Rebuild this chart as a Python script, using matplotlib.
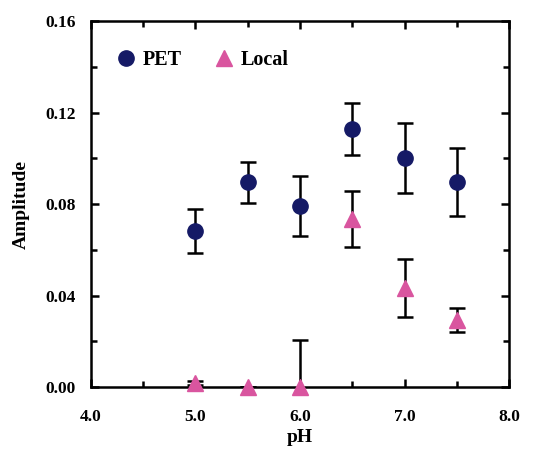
import matplotlib
matplotlib.use("Agg")
import matplotlib.pyplot as plt
from matplotlib.ticker import MultipleLocator, FormatStrFormatter

ph = [5.0, 5.5, 6.0, 6.5, 7.0, 7.5]
pet = [0.0682, 0.0896, 0.0791, 0.1128, 0.1001, 0.0896]
pet_err = [0.0096, 0.0090, 0.0131, 0.0112, 0.0153, 0.0149]
local = [0.0017, 0.0, 0.0, 0.0734, 0.0433, 0.0293]
local_err = [0.0010, 0.0, 0.0205, 0.0122, 0.0125, 0.0052]

PET_C = "#151a66"
LOC_C = "#d9559f"

plt.rcParams["font.family"] = ["Liberation Serif", "DejaVu Serif"]
plt.rcParams["font.weight"] = "bold"

fig = plt.figure(figsize=(5.48, 4.5), dpi=100)
ax = fig.add_axes([0.166, 0.14, 0.763, 0.813])

ekw = dict(fmt="none", ecolor="black", elinewidth=1.8, capsize=5.5, capthick=1.8)
ax.errorbar(ph, pet, yerr=pet_err, **ekw)
ax.errorbar(ph, local, yerr=local_err, **ekw)
ax.plot(ph, pet, "o", color=PET_C, ms=11, ls="none", clip_on=False, zorder=5, label="PET")
ax.plot(ph, local, "^", color=LOC_C, ms=11, ls="none", clip_on=False, zorder=5, label="Local")

ax.set_xlim(4.0, 8.0)
ax.set_ylim(0.0, 0.16)
ax.xaxis.set_major_locator(MultipleLocator(1.0))
ax.xaxis.set_minor_locator(MultipleLocator(0.5))
ax.yaxis.set_major_locator(MultipleLocator(0.04))
ax.yaxis.set_minor_locator(MultipleLocator(0.02))
ax.xaxis.set_major_formatter(FormatStrFormatter("%.1f"))
ax.yaxis.set_major_formatter(FormatStrFormatter("%.2f"))
ax.tick_params(which="both", direction="in", top=True, right=True, width=1.8, labelsize=12.5)
ax.tick_params(axis="y", pad=11)
ax.tick_params(axis="x", pad=16)
ax.tick_params(which="major", length=6)
ax.tick_params(which="minor", length=4)
for sp in ax.spines.values():
    sp.set_linewidth(1.8)

ax.set_xlabel("pH", fontsize=14, fontweight="bold", labelpad=3)
ax.set_ylabel("Amplitude", fontsize=14, fontweight="bold", labelpad=11)

leg = ax.legend(loc="upper left", ncol=2, frameon=False, fontsize=14.5, handletextpad=0.25,
                columnspacing=1.5, bbox_to_anchor=(0.054, 0.92), borderaxespad=0,
                handlelength=1.2, borderpad=0)

fig.savefig("out.png", dpi=100)
